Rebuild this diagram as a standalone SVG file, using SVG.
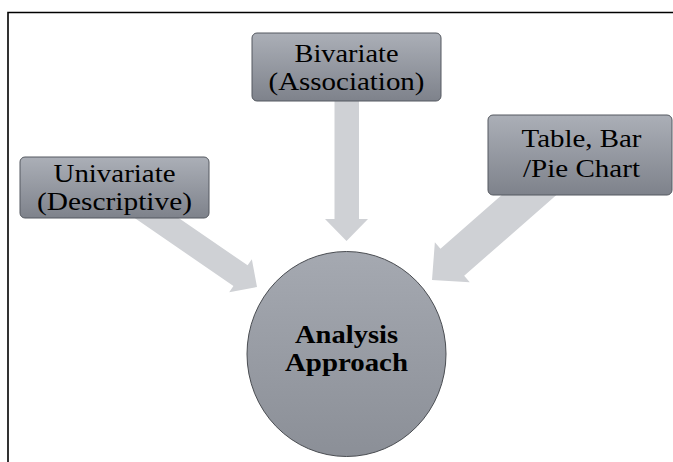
<svg xmlns="http://www.w3.org/2000/svg" width="673" height="462" viewBox="0 0 673 462">
  <defs>
    <linearGradient id="boxGrad" x1="0" y1="0" x2="0" y2="1">
      <stop offset="0" stop-color="#abafb7"/>
      <stop offset="1" stop-color="#7e828b"/>
    </linearGradient>
    <linearGradient id="circGrad" x1="0" y1="0" x2="0" y2="1">
      <stop offset="0" stop-color="#a5a9b1"/>
      <stop offset="1" stop-color="#8b8f97"/>
    </linearGradient>
    <style>
      .box { fill: url(#boxGrad); stroke: #555960; stroke-width: 1; }
      .circ { fill: url(#circGrad); stroke: #4a4d52; stroke-width: 1; }
      .arrow { fill: #cfd1d5; stroke: none; }
      .lbl { font-family: "Liberation Serif", "Times New Roman", serif; font-size: 26px; fill: #000; text-anchor: middle; }
      .bold { font-weight: bold; }
      .frame { fill: none; stroke: #000; stroke-width: 1.6; }
    </style>
  </defs>
  <rect x="0" y="0" width="673" height="462" fill="#ffffff"/>
  <path class="frame" d="M8,462 V12.5 H673"/>

  <g id="connectors">
    <!-- Bivariate -> Analysis (vertical) -->
    <polygon class="arrow" points="334.5,95 359,95 359,219 368,219 346.5,241 325,219 334.5,219"/>
    <!-- Univariate -> Analysis -->
    <g transform="translate(257,287) rotate(34.5)">
      <polygon class="arrow" points="-150,-12.5 -20,-12.5 -20,-20 0,0 -20,20 -20,12.5 -150,12.5"/>
    </g>
    <!-- Table/Bar/Pie -> Analysis -->
    <g transform="translate(432,280) rotate(138.8)">
      <polygon class="arrow" points="-150,-18 -27,-18 -27,-26.5 0,0 -27,26.5 -27,18 -150,18"/>
    </g>
  </g>

  <g id="node-univariate">
    <rect class="box" x="20" y="157" width="189" height="61" rx="5"/>
    <text class="lbl" x="114.5" y="182" textLength="122" lengthAdjust="spacingAndGlyphs">Univariate</text>
    <text class="lbl" x="114.5" y="210" textLength="155" lengthAdjust="spacingAndGlyphs">(Descriptive)</text>
  </g>

  <g id="node-bivariate">
    <rect class="box" x="252" y="33" width="189" height="68" rx="5"/>
    <text class="lbl" x="346.5" y="62" textLength="104" lengthAdjust="spacingAndGlyphs">Bivariate</text>
    <text class="lbl" x="346.5" y="90" textLength="156" lengthAdjust="spacingAndGlyphs">(Association)</text>
  </g>

  <g id="node-chart">
    <rect class="box" x="488" y="115" width="184" height="80" rx="5"/>
    <text class="lbl" x="581.5" y="147" textLength="120" lengthAdjust="spacingAndGlyphs">Table, Bar</text>
    <text class="lbl" x="581.5" y="177" textLength="117" lengthAdjust="spacingAndGlyphs">/Pie Chart</text>
  </g>

  <g id="node-analysis">
    <ellipse class="circ" cx="346.5" cy="354" rx="99.5" ry="102.5"/>
    <text class="lbl bold" x="346.5" y="343" textLength="103" lengthAdjust="spacingAndGlyphs">Analysis</text>
    <text class="lbl bold" x="346.5" y="371" textLength="123" lengthAdjust="spacingAndGlyphs">Approach</text>
  </g>
</svg>
